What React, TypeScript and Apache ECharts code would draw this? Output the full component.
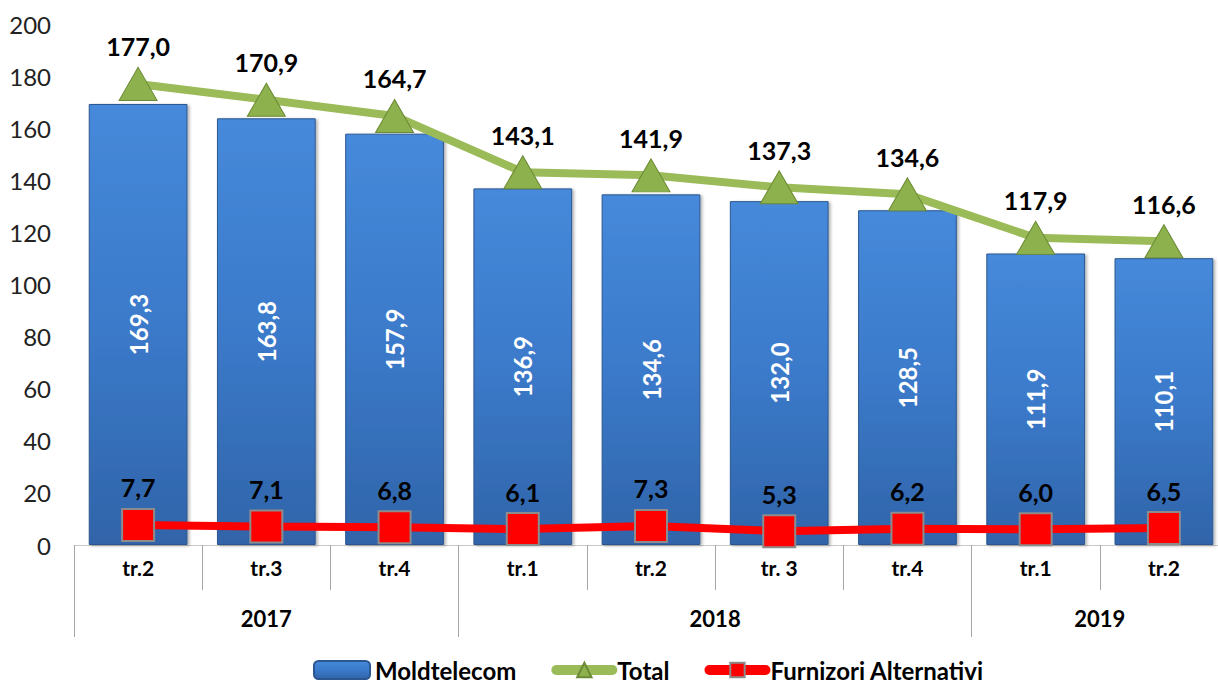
import React, { useEffect, useRef } from "react";
import * as echarts from "echarts";

const quarters = ["tr.2", "tr.3", "tr.4", "tr.1", "tr.2", "tr. 3", "tr.4", "tr.1", "tr.2"];
const years = ["2017", "2018", "2019"];
const yearCounts = [3, 4, 2];
const moldtelecom = [169.3, 163.8, 157.9, 136.9, 134.6, 132.0, 128.5, 111.9, 110.1];
const total = [177.0, 170.9, 164.7, 143.1, 141.9, 137.3, 134.6, 117.9, 116.6];
const alternativi = [7.7, 7.1, 6.8, 6.1, 7.3, 5.3, 6.2, 6.0, 6.5];

const FONT = "Lato";
const fmt = (v: number) => v.toFixed(1).replace(".", ",");

export default function App() {
  const ref = useRef<HTMLDivElement>(null);
  useEffect(() => {
    if (!ref.current) return;
    const chart = echarts.init(ref.current, null, { renderer: "svg" });

    const bounds: number[] = [0];
    yearCounts.forEach((c) => bounds.push(bounds[bounds.length - 1] + c));
    const centers = yearCounts.map((c, i) => bounds[i] + c / 2);
    const n = quarters.length;

    chart.setOption({
      animation: false,
      textStyle: { fontFamily: FONT },
      grid: {
        left: 74,
        width: 1154,
        top: 24,
        height: 521,
        containLabel: false,
        outerBoundsMode: "none",
      },
      legend: {
        top: 658,
        left: 313,
        padding: 0,
        itemWidth: 56,
        itemHeight: 18,
        itemGap: 35,
        textStyle: { fontFamily: FONT, fontWeight: "bold", fontSize: 24, color: "#000" },
        data: [
          { name: "Moldtelecom" },
          { name: "Total", lineStyle: { width: 10, cap: "round" } },
          { name: "Furnizori Alternativi", lineStyle: { width: 10, cap: "round" } },
        ],
      },
      xAxis: [
        {
          type: "category",
          data: quarters,
          position: "bottom",
          axisLine: { show: true, lineStyle: { color: "#c8c8c8", width: 1 } },
          axisTick: { show: true, interval: 0, length: 45, lineStyle: { color: "#a6a6a6" } },
          axisLabel: {
            interval: 0,
            margin: 12,
            fontFamily: FONT,
            fontWeight: "bold",
            fontSize: 21,
            color: "#000",
          },
        },
        {
          type: "value",
          min: 0,
          max: n,
          position: "bottom",
          axisLine: { show: false },
          splitLine: { show: false },
          axisTick: { show: true, length: 92, customValues: bounds, lineStyle: { color: "#a6a6a6" } },
          axisLabel: {
            customValues: centers,
            margin: 62,
            fontFamily: FONT,
            fontWeight: "bold",
            fontSize: 22,
            color: "#000",
            formatter: (v: number) => {
              const i = centers.indexOf(v);
              return i >= 0 ? years[i] : "";
            },
          },
        },
      ],
      yAxis: {
        type: "value",
        min: 0,
        max: 200,
        interval: 20,
        axisLine: { show: false },
        axisTick: { show: false },
        splitLine: { show: false },
        axisLabel: { margin: 23, fontFamily: FONT, fontSize: 24, color: "#222" },
      },
      series: [
        {
          name: "Moldtelecom",
          type: "bar",
          xAxisIndex: 0,
          data: moldtelecom,
          barCategoryGap: "23%",
          itemStyle: {
            color: new echarts.graphic.LinearGradient(0, 0, 0, 1, [
              { offset: 0, color: "#4689da" },
              { offset: 0.5, color: "#3b7aca" },
              { offset: 1, color: "#3064a9" },
            ]),
            borderColor: "#2b5790",
            borderWidth: 1,
            shadowColor: "rgba(0,0,0,0.3)",
            shadowBlur: 3,
            shadowOffsetX: 2,
            shadowOffsetY: 1,
          },
          label: {
            show: true,
            position: "inside",
            rotate: 90,
            color: "#fff",
            fontFamily: FONT,
            fontWeight: "bold",
            fontSize: 24,
            formatter: (p: any) => fmt(p.value),
          },
          z: 2,
        },
        {
          name: "Total",
          type: "line",
          xAxisIndex: 0,
          data: total,
          symbol: "triangle",
          symbolSize: [38, 33],
          lineStyle: { color: "#9bbb59", width: 8 },
          itemStyle: { color: "#8db14c", borderColor: "#6b8a34", borderWidth: 1 },
          label: {
            show: true,
            position: "top",
            distance: 8,
            color: "#000",
            fontFamily: FONT,
            fontWeight: "bold",
            fontSize: 25,
            formatter: (p: any) => fmt(p.value),
          },
          z: 3,
        },
        {
          name: "Furnizori Alternativi",
          type: "line",
          xAxisIndex: 0,
          data: alternativi,
          symbol: "rect",
          symbolSize: 32,
          lineStyle: { color: "#ff0000", width: 8 },
          itemStyle: { color: "#ff0000", borderColor: "#8c8c8c", borderWidth: 2 },
          label: {
            show: true,
            position: "top",
            distance: 8,
            color: "#000",
            fontFamily: FONT,
            fontWeight: "bold",
            fontSize: 25,
            formatter: (p: any) => fmt(p.value),
          },
          z: 4,
        },
      ],
    });
    return () => chart.dispose();
  }, []);
  return (
    <div
      ref={ref}
      style={{ position: "fixed", left: 0, top: 0, width: 1218, height: 684, background: "#fff" }}
    />
  );
}
